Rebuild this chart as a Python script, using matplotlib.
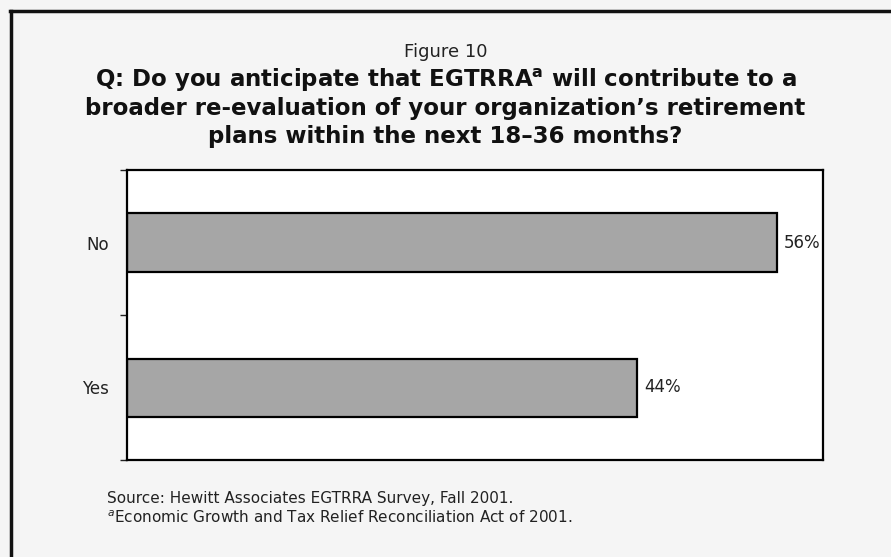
import matplotlib
matplotlib.use('Agg')
from matplotlib import pyplot as plt
from matplotlib.lines import Line2D

plt.rcParams['font.family'] = ['DejaVu Sans']
plt.rcParams['mathtext.fontset'] = 'custom'
plt.rcParams['mathtext.rm'] = 'DejaVu Sans'
plt.rcParams['mathtext.bf'] = 'DejaVu Sans:bold'

categories = ['Yes', 'No']
shares = [44, 56]
value_labels = ['44%', '56%']

W, H = 891, 557
fig = plt.figure(figsize=(W / 100, H / 100), dpi=100, facecolor='#f5f5f5')


def fx(px):
    return px / W


def fy(py):
    return 1 - py / H


# frame around the figure (only top and left edges show)
fig.add_artist(Line2D([fx(11), fx(11)], [fy(11), 0], transform=fig.transFigure,
                      color='#111111', lw=2.5))
fig.add_artist(Line2D([fx(10), 1], [fy(11), fy(11)], transform=fig.transFigure,
                      color='#111111', lw=2.5))

ax = fig.add_axes([fx(127), fy(460), fx(823) - fx(127), (460 - 170) / H])
ax.set_facecolor('white')

ypos = list(range(len(categories)))
ax.barh(ypos, shares, height=0.4, color='#a6a6a6', edgecolor='black', lw=1.6)
for y, v, lab in zip(ypos, shares, value_labels):
    ax.text(v + 0.6, y, lab, va='center', ha='left', fontsize=12, color='#222222')

ax.set_xlim(0, 60)
ax.set_ylim(-0.5, 1.5)
ax.set_xticks([])
ax.set_yticks(ypos)
ax.set_yticklabels(categories, fontsize=12, color='#222222')
ax.tick_params(axis='y', which='major', length=0, pad=13)
ax.set_yticks([-0.5, 0.5, 1.5], minor=True)
ax.tick_params(axis='y', which='minor', length=5, width=1, color='#222222')
for s in ax.spines.values():
    s.set_linewidth(1.6)
    s.set_color('black')

fig.text(0.5, fy(52), 'Figure 10', ha='center', va='center', fontsize=13, color='#222222')
title_lines = [
    r'Q: Do you anticipate that EGTRRA$^{\mathbf{a}}$ will contribute to a',
    "broader re-evaluation of your organization\u2019s retirement",
    'plans within the next 18\u201336 months?',
]
for i, line in enumerate(title_lines):
    fig.text(0.5, fy(80 + 28.5 * i), line, ha='center', va='center', fontsize=16.5,
             fontweight='bold', color='#111111')

fig.text(fx(107), fy(498), 'Source: Hewitt Associates EGTRRA Survey, Fall 2001.',
         ha='left', va='center', fontsize=11, color='#222222')
fig.text(fx(107), fy(518), r'$^{a}$Economic Growth and Tax Relief Reconciliation Act of 2001.',
         ha='left', va='center', fontsize=11, color='#222222')

fig.savefig('out.png', dpi=100, facecolor=fig.get_facecolor())
